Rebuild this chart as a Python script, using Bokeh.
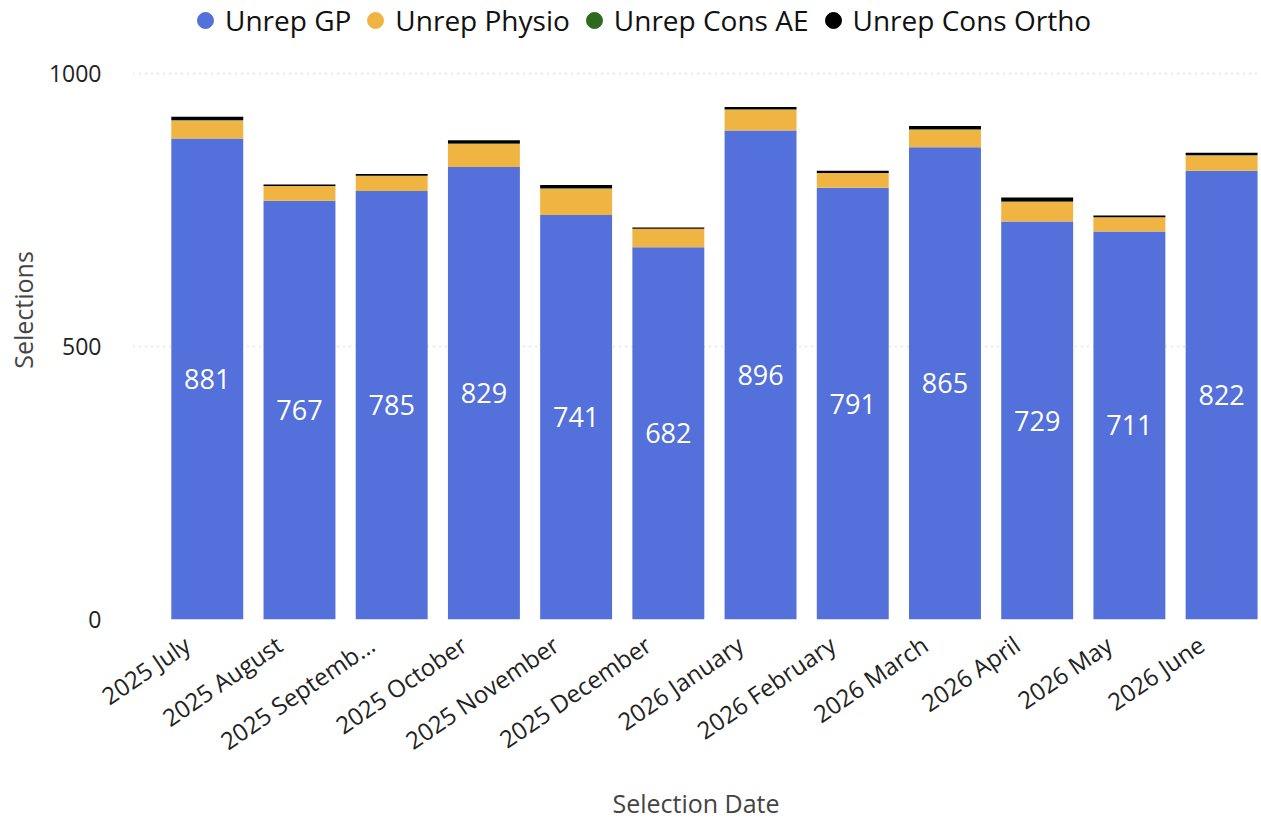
from bokeh.plotting import figure
from bokeh.models import (ColumnDataSource, Range1d, FixedTicker, Legend, LegendItem,
                          LabelSet)
from bokeh.core.properties import value
from bokeh.embed import file_html
from bokeh.resources import INLINE

months = ["2025 July", "2025 August", "2025 Septemb…", "2025 October", "2025 November",
          "2025 December", "2026 January", "2026 February", "2026 March", "2026 April",
          "2026 May", "2026 June"]
unrep_gp = [881, 767, 785, 829, 741, 682, 896, 791, 865, 729, 711, 822]
unrep_physio = [33, 27, 28, 42, 48, 34, 38, 27, 32, 36, 26, 28]
unrep_cons_ae = [1, 0, 0, 1, 1, 0, 1, 0, 1, 1, 0, 1]
unrep_cons_ortho = [6, 3, 3, 6, 6, 2, 4, 4, 6, 7, 3, 4]

series = ["Unrep GP", "Unrep Physio", "Unrep Cons AE", "Unrep Cons Ortho"]
colors = ["#5470DB", "#F0B442", "#2E6A1E", "#000000"]
y_ticks = [0, 500, 1000]

FONT = "Open Sans"
xs = list(range(len(months)))
source = ColumnDataSource(dict(
    x=xs,
    gp=unrep_gp, physio=unrep_physio, ae=unrep_cons_ae, ortho=unrep_cons_ortho,
    label_y=[v / 2 for v in unrep_gp],
    label_txt=[str(v) for v in unrep_gp],
))

p = figure(width=1261, height=823, output_backend="svg", toolbar_location=None,
           x_range=Range1d(-0.8, 11.4), y_range=Range1d(0, 1134),
           min_border_left=133, min_border_right=3, min_border_top=0,
           min_border_bottom=204)
p.outline_line_color = None

p.vbar_stack(["gp", "physio", "ae", "ortho"], x="x", width=0.78, color=colors,
             line_color=None, source=source)

labels = LabelSet(x="x", y="label_y", text="label_txt", source=source,
                  text_color="white", text_font=value(FONT), text_font_size="27px",
                  text_align="center", text_baseline="middle")
p.add_layout(labels)

# legend with circle markers (renderers hold no visible points)
nan = float("nan")
items = []
for name, c in zip(series, colors):
    r = p.scatter(x=[nan], y=[nan], marker="circle", size=19, color=c)
    items.append(LegendItem(label=name, renderers=[r]))
legend = Legend(items=items, orientation="horizontal", location=(52, 579),
                label_text_font=FONT, label_text_font_size="28px",
                label_text_color="#111111", glyph_width=40, glyph_height=40,
                label_standoff=0, spacing=4, border_line_color=None,
                background_fill_alpha=0, padding=0, margin=0)
p.add_layout(legend)

# category labels: anchor each rotated label slightly left of its bar centre
LABEL_SHIFT = -0.21875
tick_pos = [i + LABEL_SHIFT for i in xs]
p.xaxis.ticker = FixedTicker(ticks=tick_pos)
p.xaxis.major_label_overrides = {t: m for t, m in zip(tick_pos, months)}
p.xaxis.major_label_orientation = 0.6
p.xaxis.major_label_text_font = FONT
p.xaxis.major_label_text_font_size = "24px"
p.xaxis.major_label_text_color = "#222222"
p.xaxis.major_label_standoff = 16
p.xaxis.axis_label = "Selection Date"
p.xaxis.axis_label_text_font = FONT
p.xaxis.axis_label_text_font_size = "25px"
p.xaxis.axis_label_text_font_style = "normal"
p.xaxis.axis_label_text_color = "#444444"
p.xaxis.axis_label_standoff = 13

p.yaxis.ticker = FixedTicker(ticks=y_ticks)
p.yaxis.major_label_text_font = FONT
p.yaxis.major_label_text_font_size = "23px"
p.yaxis.major_label_text_color = "#222222"
p.yaxis.major_label_standoff = 26
p.yaxis.axis_label = "Selections"
p.yaxis.axis_label_text_font = FONT
p.yaxis.axis_label_text_font_size = "25px"
p.yaxis.axis_label_text_font_style = "normal"
p.yaxis.axis_label_text_color = "#444444"
p.yaxis.axis_label_standoff = 6

for ax in (p.xaxis, p.yaxis):
    ax.axis_line_color = None
    ax.major_tick_line_color = None
    ax.minor_tick_line_color = None

p.xgrid.grid_line_color = None
p.ygrid.grid_line_color = "#C8C8C8"
p.ygrid.grid_line_dash = "1 5"
p.ygrid.grid_line_width = 1.5

open("out.html", "w").write(file_html(p, INLINE))
